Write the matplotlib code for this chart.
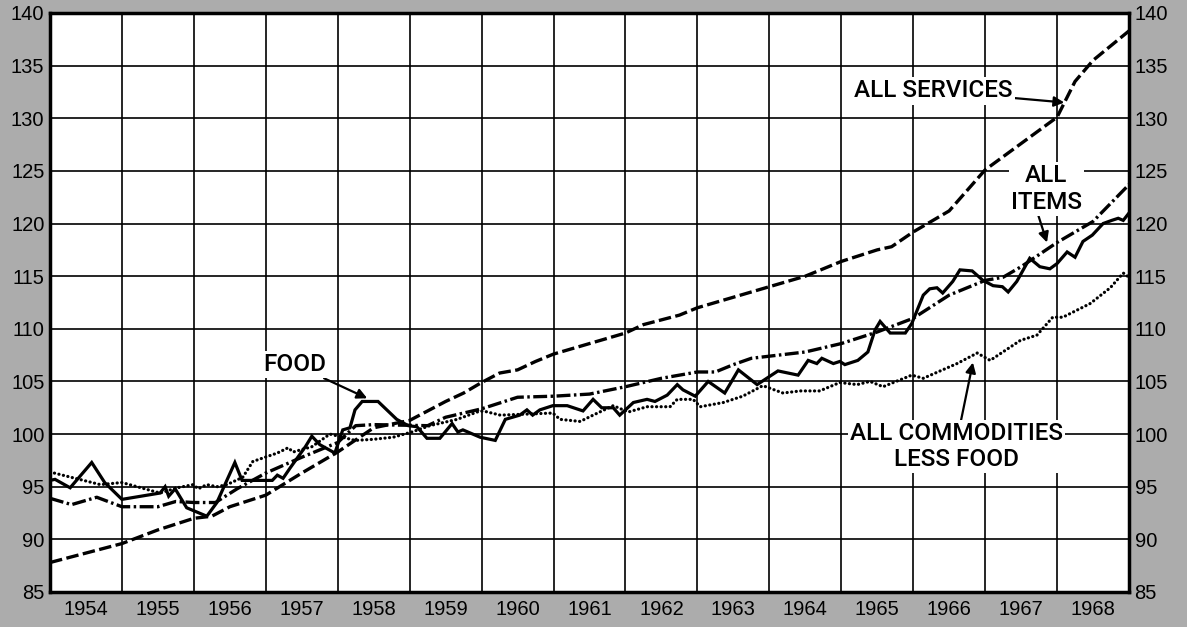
import numpy as np
import matplotlib
matplotlib.use("Agg")
import matplotlib.pyplot as plt

# consumer price indexes, 1957-59 = 100
services_t = [1954.0, 1954.5, 1955.0, 1955.5, 1956.0, 1956.25, 1956.5, 1957.0, 1957.5,
              1958.0, 1958.5, 1959.0, 1959.5, 1959.75, 1960.0, 1960.25, 1960.5, 1960.75,
              1961.0, 1961.5, 1962.0, 1962.25, 1962.75, 1963.0, 1963.5, 1964.0, 1964.5,
              1965.0, 1965.5, 1965.7, 1966.0, 1966.2, 1966.5, 1967.0, 1967.5, 1968.0,
              1968.25, 1968.5, 1969.0]
services = [87.8, 88.7, 89.6, 90.9, 92.0, 92.2, 93.1, 94.2, 96.3,
            98.3, 100.6, 101.3, 103.1, 103.9, 104.9, 105.8, 106.1, 106.9,
            107.6, 108.6, 109.6, 110.4, 111.3, 112.0, 113.0, 114.0, 115.0,
            116.4, 117.5, 117.8, 119.2, 120.0, 121.2, 125.1, 127.6, 130.1,
            133.5, 135.5, 138.3]

items_t = [1954.0, 1954.3, 1954.65, 1955.0, 1955.5, 1955.75, 1956.0, 1956.3, 1956.6,
           1957.0, 1957.5, 1958.0, 1958.25, 1958.5, 1959.25, 1959.5, 1960.0, 1960.5,
           1961.0, 1961.5, 1962.0, 1962.5, 1963.0, 1963.25, 1963.5, 1963.75, 1964.0,
           1964.5, 1965.0, 1965.5, 1966.0, 1966.5, 1967.0, 1967.25, 1967.5, 1968.0,
           1968.5, 1969.0]
items = [93.9, 93.3, 94.0, 93.1, 93.1, 93.6, 93.5, 93.5, 94.8,
         96.3, 97.8, 99.2, 100.8, 100.9, 100.8, 101.6, 102.4, 103.5,
         103.6, 103.8, 104.5, 105.3, 105.9, 105.9, 106.6, 107.2, 107.4,
         107.8, 108.6, 109.7, 111.0, 113.2, 114.6, 114.9, 115.9, 118.2,
         120.2, 123.7]

food_t = [1954.0, 1954.07, 1954.28, 1954.58, 1954.76, 1955.0, 1955.53, 1955.6, 1955.65,
          1955.74, 1955.9, 1956.18, 1956.32, 1956.57, 1956.67, 1957.09, 1957.16, 1957.24,
          1957.34, 1957.55, 1957.64, 1957.75, 1957.96, 1958.07, 1958.17, 1958.24, 1958.34,
          1958.56, 1958.82, 1958.98, 1959.1, 1959.24, 1959.42, 1959.59, 1959.67, 1959.74,
          1959.98, 1960.19, 1960.33, 1960.53, 1960.63, 1960.71, 1960.81, 1960.99, 1961.19,
          1961.41, 1961.55, 1961.67, 1961.83, 1961.92, 1962.11, 1962.3, 1962.41, 1962.58,
          1962.72, 1962.8, 1962.97, 1963.15, 1963.38, 1963.57, 1963.83, 1964.12, 1964.4,
          1964.54, 1964.66, 1964.73, 1964.89, 1964.98, 1965.05, 1965.23, 1965.37, 1965.47,
          1965.54, 1965.68, 1965.89, 1965.98, 1966.14, 1966.23, 1966.33, 1966.41, 1966.55,
          1966.65, 1966.82, 1966.97, 1967.11, 1967.24, 1967.32, 1967.44, 1967.62, 1967.76,
          1967.9, 1968.0, 1968.14, 1968.25, 1968.36, 1968.49, 1968.64, 1968.76, 1968.85,
          1968.92, 1969.0]
food = [95.6, 95.7, 94.9, 97.3, 95.4, 93.8, 94.4, 95.0, 94.1,
        94.8, 93.0, 92.2, 93.5, 97.3, 95.6, 95.6, 96.1, 95.8,
        96.8, 98.8, 99.8, 99.0, 98.2, 100.4, 100.6, 102.3, 103.1,
        103.1, 101.4, 100.8, 100.7, 99.6, 99.6, 101.0, 100.2, 100.4,
        99.7, 99.4, 101.4, 101.8, 102.3, 101.8, 102.3, 102.7, 102.7,
        102.2, 103.3, 102.5, 102.5, 101.8, 103.0, 103.3, 103.1, 103.7,
        104.7, 104.2, 103.6, 105.0, 103.9, 106.1, 104.7, 106.0, 105.6,
        107.0, 106.7, 107.2, 106.7, 106.9, 106.6, 107.0, 107.8, 109.9,
        110.7, 109.6, 109.6, 110.5, 113.2, 113.8, 113.9, 113.4, 114.5,
        115.6, 115.5, 114.6, 114.1, 114.0, 113.5, 114.5, 116.7, 115.9,
        115.7, 116.2, 117.3, 116.8, 118.3, 118.9, 120.0, 120.3, 120.5,
        120.3, 121.0]

comm_t = [1954.0, 1954.7, 1955.0, 1955.53, 1955.77, 1955.99, 1956.06, 1956.18, 1956.32,
          1956.46, 1956.68, 1956.82, 1957.16, 1957.31, 1957.38, 1957.64, 1957.89, 1958.07,
          1958.24, 1958.49, 1958.77, 1959.03, 1959.28, 1959.66, 1959.94, 1960.02, 1960.26,
          1960.63, 1960.99, 1961.09, 1961.37, 1961.55, 1961.83, 1962.04, 1962.3, 1962.62,
          1962.72, 1962.94, 1963.04, 1963.36, 1963.63, 1963.91, 1964.19, 1964.43, 1964.7,
          1964.98, 1965.22, 1965.4, 1965.58, 1965.98, 1966.14, 1966.61, 1966.89, 1967.07,
          1967.49, 1967.72, 1967.94, 1968.08, 1968.46, 1968.74, 1968.92, 1969.0]
comm = [96.4, 95.2, 95.4, 94.4, 94.9, 95.2, 94.8, 95.2, 95.0,
        95.2, 95.9, 97.4, 98.2, 98.7, 98.3, 98.8, 100.0, 99.7,
        99.4, 99.5, 99.7, 100.2, 100.8, 101.4, 102.1, 102.2, 101.8,
        101.9, 102.0, 101.4, 101.2, 101.8, 102.7, 102.1, 102.6, 102.6,
        103.3, 103.3, 102.6, 103.0, 103.6, 104.6, 103.9, 104.1, 104.1,
        104.9, 104.7, 105.0, 104.5, 105.6, 105.3, 106.7, 107.7, 107.0,
        108.9, 109.4, 111.1, 111.1, 112.4, 113.9, 115.3, 114.9]

years = list(range(1954, 1969))
y_ticks = list(range(85, 141, 5))

plt.rcParams['font.family'] = ['Liberation Sans', 'DejaVu Sans']
plt.rcParams['lines.scale_dashes'] = False

fig = plt.figure(figsize=(11.87, 6.27), dpi=100)
fig.patch.set_facecolor('#acacac')
ax = fig.add_axes([50 / 1187, 1 - 592 / 627, 1079 / 1187, 579 / 627])
ax.set_facecolor('white')

ax.plot(services_t, services, color='black', lw=2.4, dashes=(9, 3.2))
ax.plot(items_t, items, color='black', lw=2.4, dashes=(10, 2.5, 1.8, 2.5))
ax.plot(food_t, food, color='black', lw=2.3, solid_joinstyle='miter')
ax.plot(comm_t, comm, color='black', lw=2.3, dashes=(0.1, 3.2), dash_capstyle='round')

ax.set_xlim(1954, 1969)
ax.set_ylim(85, 140)
ax.set_xticks(range(1954, 1970))
ax.set_xticklabels([])
ax.set_xticks([y + 0.5 for y in years], minor=True)
ax.set_xticklabels([str(y) for y in years], minor=True)
ax.set_yticks(y_ticks)
ax.grid(True, which='major', color='black', lw=1.2)
ax.set_axisbelow(True)
ax.tick_params(which='both', length=0, labelsize=14.5)
ax.tick_params(axis='x', which='minor', pad=6)
ax.tick_params(axis='y', pad=4, labelright=True, right=True)
for s in ax.spines.values():
    s.set_linewidth(2.5)

bb = dict(facecolor='white', edgecolor='none', pad=1.5)
arr = dict(arrowstyle='-|>', color='black', lw=1.6, mutation_scale=15, shrinkA=0, shrinkB=0)
tf = dict(fontsize=17.5, family=['Roboto', 'DejaVu Sans'], weight='medium',
          ha='center', va='center', bbox=bb)
ax.annotate('FOOD', xy=(1958.41, 103.4), xytext=(1957.4, 106.6),
            arrowprops=arr, **tf)
ax.annotate('ALL SERVICES', xy=(1968.1, 131.5), xytext=(1966.28, 132.6),
            arrowprops=arr, **tf)
ax.annotate('ALL\nITEMS', xy=(1967.86, 118.2), xytext=(1967.85, 123.3),
            linespacing=1.2, arrowprops=dict(arr, relpos=(0.38, 0.0)), **tf)
ax.annotate('ALL COMMODITIES\nLESS FOOD', xy=(1966.83, 106.8), xytext=(1966.6, 98.8),
            linespacing=1.15, arrowprops=dict(arr, relpos=(0.52, 1.0)), **tf)

fig.savefig('out.png', dpi=100, facecolor=fig.get_facecolor())
